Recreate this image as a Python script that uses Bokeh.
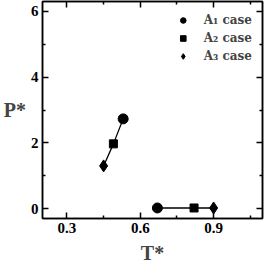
from bokeh.plotting import figure
from bokeh.models import (LinearAxis, FixedTicker, Range1d, Legend, LegendItem, CustomJSTickFormatter)
from bokeh.embed import file_html
from bokeh.resources import INLINE

# Data
a1_T = [0.53, 0.67]
a1_P = [2.73, 0.02]
a2_T = [0.49, 0.82]
a2_P = [1.97, 0.02]
a3_T = [0.45, 0.90]
a3_P = [1.30, 0.02]

upper_T = [a3_T[0], a2_T[0], a1_T[0]]
upper_P = [a3_P[0], a2_P[0], a1_P[0]]
lower_T = [a1_T[1], a2_T[1], a3_T[1]]
lower_P = [a1_P[1], a2_P[1], a3_P[1]]

x_ticks = [0.3, 0.6, 0.9]
x_minor = [0.45, 0.75, 1.05]
y_ticks = [0, 2, 4, 6]
y_minor = [1, 3, 5]
labels = ["A\u2081 case", "A\u2082 case", "A\u2083 case"]

FONT = "Liberation Serif"

p = figure(width=265, height=266, output_backend="svg", toolbar_location=None,
           x_range=Range1d(0.2, 1.1), y_range=Range1d(-0.3, 6.3),
           min_border_left=31, min_border_right=3, min_border_top=1, min_border_bottom=34)
p.grid.visible = False
p.outline_line_color = "black"
p.outline_line_width = 1.5

def style_axis(ax, ticks, minor, show_labels=True):
    ax.ticker = FixedTicker(ticks=ticks, minor_ticks=minor)
    ax.major_tick_in = 6
    ax.major_tick_out = 0
    ax.minor_tick_in = 3
    ax.minor_tick_out = 0
    ax.axis_line_width = 1.5
    ax.major_tick_line_width = 1.5
    ax.minor_tick_line_width = 1.5
    ax.major_label_text_font = FONT
    ax.major_label_text_font_style = "bold"
    ax.major_label_text_font_size = "15px"
    ax.major_label_text_color = "black"
    ax.major_label_standoff = 4
    if not show_labels:
        ax.formatter = CustomJSTickFormatter(code="return ''")
        ax.major_label_standoff = 0

style_axis(p.xaxis[0], x_ticks, x_minor)
style_axis(p.yaxis[0], y_ticks, y_minor)
p.xaxis[0].axis_label = "T*"
p.yaxis[0].axis_label = "P*"
for ax in (p.xaxis[0], p.yaxis[0]):
    ax.axis_label_text_font = FONT
    ax.axis_label_text_font_style = "bold"
    ax.axis_label_text_font_size = "20px"
    ax.axis_label_standoff = 6
p.yaxis[0].axis_label_orientation = "horizontal"
p.yaxis[0].axis_label_standoff = 2

top = LinearAxis()
style_axis(top, x_ticks, x_minor, show_labels=False)
p.add_layout(top, "above")
right = LinearAxis()
style_axis(right, y_ticks, y_minor, show_labels=False)
p.add_layout(right, "right")

p.line(upper_T, upper_P, line_color="black", line_width=1.3)
p.line(lower_T, lower_P, line_color="black", line_width=1.3)

r1 = p.scatter(a1_T, a1_P, marker="circle", size=10, fill_color="black", line_color="black")
r2 = p.scatter(a2_T, a2_P, marker="square", size=8, fill_color="black", line_color="black")
r3 = p.scatter(a3_T, a3_P, marker="diamond", size=12, fill_color="black", line_color="black")

legend = Legend(items=[LegendItem(label=labels[0], renderers=[r1]),
                       LegendItem(label=labels[1], renderers=[r2]),
                       LegendItem(label=labels[2], renderers=[r3])],
                location="top_right")
legend.border_line_color = None
legend.background_fill_alpha = 0
legend.label_text_font = "DejaVu Serif"
legend.label_text_font_style = "bold"
legend.label_text_font_size = "12px"
legend.spacing = 0
legend.glyph_width = 14
legend.glyph_height = 18
legend.label_height = 18
legend.label_standoff = 14
legend.margin = 10
legend.padding = 0
p.add_layout(legend)

open("out.html", "w").write(file_html(p, INLINE))
